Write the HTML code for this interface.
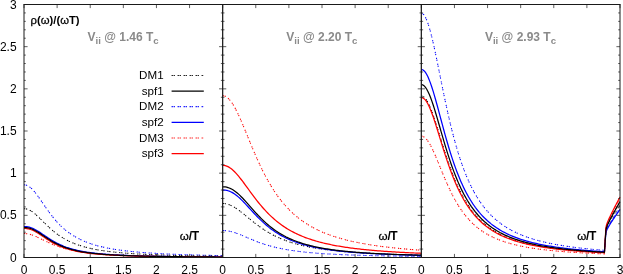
<!DOCTYPE html>
<html><head><meta charset="utf-8"><title>plot</title>
<style>
html,body{margin:0;padding:0;background:#fff;}
body{width:623px;height:274px;overflow:hidden;}
svg{display:block;will-change:transform;}
text{font-family:"Liberation Sans",sans-serif;font-size:12.0px;fill:#000;}
.ttl{font-weight:bold;font-size:12px;fill:#8a8a8a;}
.b{font-weight:bold;font-size:12px;}
.lg{font-size:11.6px;}
.g{stroke:#000;stroke-width:0.25px;}
</style></head><body>
<svg width="623" height="274" viewBox="0 0 623 274">
<rect width="623" height="274" fill="#fff"/>
<g fill="none" stroke-linecap="butt" stroke-linejoin="round">
<path d="M24.00,184.80 L25.32,184.93 L26.65,185.29 L27.97,185.89 L29.30,186.71 L30.62,187.73 L31.95,188.95 L33.27,190.33 L34.60,191.86 L35.92,193.51 L37.24,195.26 L38.57,197.08 L39.89,198.96 L41.22,200.88 L42.54,202.81 L43.87,204.74 L45.19,206.66 L46.52,208.56 L47.84,210.42 L49.16,212.25 L50.49,214.02 L51.81,215.74 L53.14,217.40 L54.46,219.01 L55.79,220.55 L57.11,222.04 L58.44,223.46 L59.76,224.82 L61.08,226.12 L62.41,227.37 L63.73,228.56 L65.06,229.69 L66.38,230.77 L67.71,231.80 L69.03,232.79 L70.36,233.72 L71.68,234.62 L73.00,235.47 L74.33,236.28 L75.65,237.05 L76.98,237.79 L78.30,238.49 L79.63,239.16 L80.95,239.79 L82.28,240.40 L83.60,240.98 L84.92,241.54 L86.25,242.07 L87.57,242.57 L88.90,243.06 L90.22,243.52 L91.55,243.96 L92.87,244.38 L94.20,244.79 L95.52,245.17 L96.84,245.55 L98.17,245.90 L99.49,246.24 L100.82,246.57 L102.14,246.88 L103.47,247.18 L104.79,247.47 L106.12,247.75 L107.44,248.02 L108.76,248.27 L110.09,248.52 L111.41,248.76 L112.74,248.99 L114.06,249.21 L115.39,249.42 L116.71,249.62 L118.04,249.82 L119.36,250.01 L120.68,250.19 L122.01,250.37 L123.33,250.54 L124.66,250.71 L125.98,250.87 L127.31,251.02 L128.63,251.17 L129.96,251.31 L131.28,251.45 L132.60,251.59 L133.93,251.72 L135.25,251.84 L136.58,251.97 L137.90,252.08 L139.23,252.20 L140.55,252.31 L141.88,252.42 L143.20,252.52 L144.52,252.62 L145.85,252.72 L147.17,252.82 L148.50,252.91 L149.82,253.00 L151.15,253.09 L152.47,253.17 L153.80,253.26 L155.12,253.34 L156.44,253.42 L157.77,253.49 L159.09,253.57 L160.42,253.64 L161.74,253.71 L163.07,253.78 L164.39,253.84 L165.72,253.91 L167.04,253.97 L168.36,254.03 L169.69,254.09 L171.01,254.15 L172.34,254.21 L173.66,254.26 L174.99,254.32 L176.31,254.37 L177.64,254.42 L178.96,254.47 L180.28,254.52 L181.61,254.57 L182.93,254.61 L184.26,254.66 L185.58,254.70 L186.91,254.75 L188.23,254.79 L189.56,254.83 L190.88,254.87 L192.20,254.91 L193.53,254.95 L194.85,254.99 L196.18,255.03 L197.50,255.06 L198.83,255.10 L200.15,255.13 L201.48,255.17 L202.80,255.20 L204.12,255.23 L205.45,255.26 L206.77,255.30 L208.10,255.33 L209.42,255.36 L210.75,255.39 L212.07,255.42 L213.40,255.44 L214.72,255.47 L216.04,255.50 L217.37,255.52 L218.69,255.55 L220.02,255.58 L221.34,255.60 L222.67,255.63" stroke="#0000ff" stroke-width="1.05" stroke-dasharray="1.25 0.75 1.25 2.75"/>
<path d="M24.00,233.55 L25.32,233.59 L26.65,233.72 L27.97,233.92 L29.30,234.20 L30.62,234.55 L31.95,234.97 L33.27,235.44 L34.60,235.96 L35.92,236.52 L37.24,237.12 L38.57,237.74 L39.89,238.37 L41.22,239.02 L42.54,239.67 L43.87,240.32 L45.19,240.96 L46.52,241.60 L47.84,242.22 L49.16,242.82 L50.49,243.41 L51.81,243.98 L53.14,244.53 L54.46,245.07 L55.79,245.57 L57.11,246.06 L58.44,246.53 L59.76,246.98 L61.08,247.40 L62.41,247.81 L63.73,248.20 L65.06,248.57 L66.38,248.92 L67.71,249.26 L69.03,249.58 L70.36,249.88 L71.68,250.17 L73.00,250.45 L74.33,250.71 L75.65,250.96 L76.98,251.20 L78.30,251.43 L79.63,251.64 L80.95,251.85 L82.28,252.04 L83.60,252.23 L84.92,252.41 L86.25,252.58 L87.57,252.74 L88.90,252.90 L90.22,253.05 L91.55,253.19 L92.87,253.32 L94.20,253.45 L95.52,253.58 L96.84,253.70 L98.17,253.81 L99.49,253.92 L100.82,254.02 L102.14,254.12 L103.47,254.22 L104.79,254.31 L106.12,254.40 L107.44,254.49 L108.76,254.57 L110.09,254.65 L111.41,254.72 L112.74,254.80 L114.06,254.87 L115.39,254.93 L116.71,255.00 L118.04,255.06 L119.36,255.12 L120.68,255.18 L122.01,255.24 L123.33,255.29 L124.66,255.34 L125.98,255.40 L127.31,255.44 L128.63,255.49 L129.96,255.54 L131.28,255.58 L132.60,255.62 L133.93,255.67 L135.25,255.71 L136.58,255.75 L137.90,255.78 L139.23,255.82 L140.55,255.85 L141.88,255.89 L143.20,255.92 L144.52,255.95 L145.85,255.99 L147.17,256.02 L148.50,256.05 L149.82,256.07 L151.15,256.10 L152.47,256.13 L153.80,256.16 L155.12,256.18 L156.44,256.21 L157.77,256.23 L159.09,256.25 L160.42,256.28 L161.74,256.30 L163.07,256.32 L164.39,256.34 L165.72,256.36 L167.04,256.38 L168.36,256.40 L169.69,256.42 L171.01,256.44 L172.34,256.46 L173.66,256.47 L174.99,256.49 L176.31,256.51 L177.64,256.52 L178.96,256.54 L180.28,256.56 L181.61,256.57 L182.93,256.59 L184.26,256.60 L185.58,256.61 L186.91,256.63 L188.23,256.64 L189.56,256.66 L190.88,256.67 L192.20,256.68 L193.53,256.69 L194.85,256.71 L196.18,256.72 L197.50,256.73 L198.83,256.74 L200.15,256.75 L201.48,256.76 L202.80,256.77 L204.12,256.78 L205.45,256.79 L206.77,256.80 L208.10,256.81 L209.42,256.82 L210.75,256.83 L212.07,256.84 L213.40,256.85 L214.72,256.86 L216.04,256.87 L217.37,256.87 L218.69,256.88 L220.02,256.89 L221.34,256.90 L222.67,256.91" stroke="#ff0000" stroke-width="1.05" stroke-dasharray="1.25 0.75 1.25 2.75"/>
<path d="M24.00,208.67 L25.32,208.76 L26.65,209.01 L27.97,209.42 L29.30,209.99 L30.62,210.69 L31.95,211.53 L33.27,212.48 L34.60,213.54 L35.92,214.67 L37.24,215.87 L38.57,217.12 L39.89,218.40 L41.22,219.71 L42.54,221.03 L43.87,222.35 L45.19,223.65 L46.52,224.94 L47.84,226.20 L49.16,227.44 L50.49,228.63 L51.81,229.79 L53.14,230.92 L54.46,232.00 L55.79,233.03 L57.11,234.03 L58.44,234.99 L59.76,235.90 L61.08,236.77 L62.41,237.60 L63.73,238.40 L65.06,239.15 L66.38,239.87 L67.71,240.56 L69.03,241.22 L70.36,241.84 L71.68,242.43 L73.00,243.00 L74.33,243.54 L75.65,244.05 L76.98,244.54 L78.30,245.00 L79.63,245.44 L80.95,245.87 L82.28,246.27 L83.60,246.65 L84.92,247.02 L86.25,247.37 L87.57,247.70 L88.90,248.02 L90.22,248.33 L91.55,248.62 L92.87,248.90 L94.20,249.16 L95.52,249.42 L96.84,249.66 L98.17,249.90 L99.49,250.12 L100.82,250.34 L102.14,250.54 L103.47,250.74 L104.79,250.93 L106.12,251.11 L107.44,251.29 L108.76,251.46 L110.09,251.62 L111.41,251.78 L112.74,251.93 L114.06,252.07 L115.39,252.21 L116.71,252.34 L118.04,252.47 L119.36,252.60 L120.68,252.72 L122.01,252.84 L123.33,252.95 L124.66,253.06 L125.98,253.16 L127.31,253.26 L128.63,253.36 L129.96,253.45 L131.28,253.54 L132.60,253.63 L133.93,253.72 L135.25,253.80 L136.58,253.88 L137.90,253.96 L139.23,254.03 L140.55,254.11 L141.88,254.18 L143.20,254.25 L144.52,254.31 L145.85,254.38 L147.17,254.44 L148.50,254.50 L149.82,254.56 L151.15,254.62 L152.47,254.67 L153.80,254.73 L155.12,254.78 L156.44,254.83 L157.77,254.88 L159.09,254.93 L160.42,254.98 L161.74,255.02 L163.07,255.07 L164.39,255.11 L165.72,255.15 L167.04,255.19 L168.36,255.23 L169.69,255.27 L171.01,255.31 L172.34,255.35 L173.66,255.38 L174.99,255.42 L176.31,255.45 L177.64,255.49 L178.96,255.52 L180.28,255.55 L181.61,255.58 L182.93,255.61 L184.26,255.64 L185.58,255.67 L186.91,255.70 L188.23,255.73 L189.56,255.76 L190.88,255.78 L192.20,255.81 L193.53,255.83 L194.85,255.86 L196.18,255.88 L197.50,255.91 L198.83,255.93 L200.15,255.95 L201.48,255.98 L202.80,256.00 L204.12,256.02 L205.45,256.04 L206.77,256.06 L208.10,256.08 L209.42,256.10 L210.75,256.12 L212.07,256.14 L213.40,256.16 L214.72,256.17 L216.04,256.19 L217.37,256.21 L218.69,256.23 L220.02,256.24 L221.34,256.26 L222.67,256.28" stroke="#000" stroke-width="1.05" stroke-dasharray="1.25 0.75 1.25 2.75"/>
<path d="M24.00,226.55 L25.32,226.58 L26.65,226.69 L27.97,226.89 L29.30,227.18 L30.62,227.56 L31.95,228.04 L33.27,228.60 L34.60,229.24 L35.92,229.95 L37.24,230.72 L38.57,231.53 L39.89,232.38 L41.22,233.26 L42.54,234.16 L43.87,235.06 L45.19,235.97 L46.52,236.86 L47.84,237.75 L49.16,238.61 L50.49,239.45 L51.81,240.26 L53.14,241.05 L54.46,241.80 L55.79,242.53 L57.11,243.22 L58.44,243.88 L59.76,244.51 L61.08,245.11 L62.41,245.68 L63.73,246.22 L65.06,246.73 L66.38,247.22 L67.71,247.68 L69.03,248.11 L70.36,248.52 L71.68,248.91 L73.00,249.28 L74.33,249.63 L75.65,249.96 L76.98,250.27 L78.30,250.57 L79.63,250.85 L80.95,251.12 L82.28,251.37 L83.60,251.61 L84.92,251.84 L86.25,252.05 L87.57,252.26 L88.90,252.45 L90.22,252.64 L91.55,252.81 L92.87,252.98 L94.20,253.14 L95.52,253.29 L96.84,253.44 L98.17,253.57 L99.49,253.71 L100.82,253.83 L102.14,253.95 L103.47,254.07 L104.79,254.18 L106.12,254.28 L107.44,254.38 L108.76,254.48 L110.09,254.57 L111.41,254.66 L112.74,254.74 L114.06,254.82 L115.39,254.90 L116.71,254.97 L118.04,255.04 L119.36,255.11 L120.68,255.18 L122.01,255.24 L123.33,255.30 L124.66,255.36 L125.98,255.42 L127.31,255.47 L128.63,255.53 L129.96,255.58 L131.28,255.62 L132.60,255.67 L133.93,255.72 L135.25,255.76 L136.58,255.80 L137.90,255.84 L139.23,255.88 L140.55,255.92 L141.88,255.96 L143.20,255.99 L144.52,256.03 L145.85,256.06 L147.17,256.09 L148.50,256.13 L149.82,256.16 L151.15,256.18 L152.47,256.21 L153.80,256.24 L155.12,256.27 L156.44,256.29 L157.77,256.32 L159.09,256.34 L160.42,256.37 L161.74,256.39 L163.07,256.41 L164.39,256.43 L165.72,256.45 L167.04,256.48 L168.36,256.49 L169.69,256.51 L171.01,256.53 L172.34,256.55 L173.66,256.57 L174.99,256.59 L176.31,256.60 L177.64,256.62 L178.96,256.64 L180.28,256.65 L181.61,256.67 L182.93,256.68 L184.26,256.70 L185.58,256.71 L186.91,256.72 L188.23,256.74 L189.56,256.75 L190.88,256.76 L192.20,256.78 L193.53,256.79 L194.85,256.80 L196.18,256.81 L197.50,256.82 L198.83,256.83 L200.15,256.84 L201.48,256.85 L202.80,256.86 L204.12,256.87 L205.45,256.88 L206.77,256.89 L208.10,256.90 L209.42,256.91 L210.75,256.92 L212.07,256.93 L213.40,256.94 L214.72,256.95 L216.04,256.96 L217.37,256.96 L218.69,256.97 L220.02,256.98 L221.34,256.99 L222.67,256.99" stroke="#0000ff" stroke-width="1.25"/>
<path d="M24.00,228.41 L25.32,228.44 L26.65,228.55 L27.97,228.76 L29.30,229.07 L30.62,229.47 L31.95,229.97 L33.27,230.55 L34.60,231.22 L35.92,231.95 L37.24,232.73 L38.57,233.56 L39.89,234.43 L41.22,235.31 L42.54,236.21 L43.87,237.10 L45.19,237.99 L46.52,238.87 L47.84,239.72 L49.16,240.56 L50.49,241.36 L51.81,242.14 L53.14,242.88 L54.46,243.59 L55.79,244.27 L57.11,244.91 L58.44,245.53 L59.76,246.11 L61.08,246.66 L62.41,247.18 L63.73,247.67 L65.06,248.13 L66.38,248.57 L67.71,248.98 L69.03,249.37 L70.36,249.74 L71.68,250.09 L73.00,250.42 L74.33,250.73 L75.65,251.02 L76.98,251.29 L78.30,251.56 L79.63,251.80 L80.95,252.04 L82.28,252.26 L83.60,252.47 L84.92,252.66 L86.25,252.85 L87.57,253.03 L88.90,253.20 L90.22,253.36 L91.55,253.51 L92.87,253.66 L94.20,253.79 L95.52,253.92 L96.84,254.05 L98.17,254.17 L99.49,254.28 L100.82,254.39 L102.14,254.49 L103.47,254.59 L104.79,254.68 L106.12,254.77 L107.44,254.86 L108.76,254.94 L110.09,255.02 L111.41,255.10 L112.74,255.17 L114.06,255.24 L115.39,255.30 L116.71,255.37 L118.04,255.43 L119.36,255.49 L120.68,255.54 L122.01,255.60 L123.33,255.65 L124.66,255.70 L125.98,255.75 L127.31,255.79 L128.63,255.84 L129.96,255.88 L131.28,255.92 L132.60,255.96 L133.93,256.00 L135.25,256.04 L136.58,256.07 L137.90,256.11 L139.23,256.14 L140.55,256.17 L141.88,256.20 L143.20,256.23 L144.52,256.26 L145.85,256.29 L147.17,256.32 L148.50,256.34 L149.82,256.37 L151.15,256.39 L152.47,256.42 L153.80,256.44 L155.12,256.46 L156.44,256.49 L157.77,256.51 L159.09,256.53 L160.42,256.55 L161.74,256.57 L163.07,256.59 L164.39,256.60 L165.72,256.62 L167.04,256.64 L168.36,256.66 L169.69,256.67 L171.01,256.69 L172.34,256.70 L173.66,256.72 L174.99,256.73 L176.31,256.75 L177.64,256.76 L178.96,256.77 L180.28,256.79 L181.61,256.80 L182.93,256.81 L184.26,256.83 L185.58,256.84 L186.91,256.85 L188.23,256.86 L189.56,256.87 L190.88,256.88 L192.20,256.89 L193.53,256.90 L194.85,256.91 L196.18,256.92 L197.50,256.93 L198.83,256.94 L200.15,256.95 L201.48,256.96 L202.80,256.97 L204.12,256.98 L205.45,256.98 L206.77,256.99 L208.10,257.00 L209.42,257.01 L210.75,257.01 L212.07,257.02 L213.40,257.03 L214.72,257.04 L216.04,257.04 L217.37,257.05 L218.69,257.06 L220.02,257.06 L221.34,257.07 L222.67,257.08" stroke="#ff0000" stroke-width="1.25"/>
<path d="M24.00,227.48 L25.32,227.51 L26.65,227.62 L27.97,227.82 L29.30,228.12 L30.62,228.51 L31.95,229.00 L33.27,229.57 L34.60,230.21 L35.92,230.93 L37.24,231.71 L38.57,232.53 L39.89,233.38 L41.22,234.26 L42.54,235.16 L43.87,236.05 L45.19,236.95 L46.52,237.84 L47.84,238.70 L49.16,239.55 L50.49,240.38 L51.81,241.17 L53.14,241.94 L54.46,242.67 L55.79,243.37 L57.11,244.04 L58.44,244.68 L59.76,245.28 L61.08,245.86 L62.41,246.40 L63.73,246.92 L65.06,247.41 L66.38,247.87 L67.71,248.31 L69.03,248.72 L70.36,249.11 L71.68,249.48 L73.00,249.83 L74.33,250.16 L75.65,250.47 L76.98,250.77 L78.30,251.05 L79.63,251.31 L80.95,251.56 L82.28,251.80 L83.60,252.03 L84.92,252.24 L86.25,252.44 L87.57,252.63 L88.90,252.82 L90.22,252.99 L91.55,253.15 L92.87,253.31 L94.20,253.46 L95.52,253.60 L96.84,253.73 L98.17,253.86 L99.49,253.99 L100.82,254.10 L102.14,254.21 L103.47,254.32 L104.79,254.42 L106.12,254.52 L107.44,254.61 L108.76,254.70 L110.09,254.79 L111.41,254.87 L112.74,254.95 L114.06,255.02 L115.39,255.10 L116.71,255.16 L118.04,255.23 L119.36,255.29 L120.68,255.36 L122.01,255.41 L123.33,255.47 L124.66,255.53 L125.98,255.58 L127.31,255.63 L128.63,255.68 L129.96,255.72 L131.28,255.77 L132.60,255.81 L133.93,255.85 L135.25,255.89 L136.58,255.93 L137.90,255.97 L139.23,256.01 L140.55,256.04 L141.88,256.08 L143.20,256.11 L144.52,256.14 L145.85,256.17 L147.17,256.20 L148.50,256.23 L149.82,256.26 L151.15,256.29 L152.47,256.31 L153.80,256.34 L155.12,256.36 L156.44,256.39 L157.77,256.41 L159.09,256.43 L160.42,256.45 L161.74,256.48 L163.07,256.50 L164.39,256.52 L165.72,256.54 L167.04,256.56 L168.36,256.57 L169.69,256.59 L171.01,256.61 L172.34,256.63 L173.66,256.64 L174.99,256.66 L176.31,256.67 L177.64,256.69 L178.96,256.70 L180.28,256.72 L181.61,256.73 L182.93,256.75 L184.26,256.76 L185.58,256.77 L186.91,256.78 L188.23,256.80 L189.56,256.81 L190.88,256.82 L192.20,256.83 L193.53,256.84 L194.85,256.85 L196.18,256.86 L197.50,256.88 L198.83,256.89 L200.15,256.90 L201.48,256.91 L202.80,256.91 L204.12,256.92 L205.45,256.93 L206.77,256.94 L208.10,256.95 L209.42,256.96 L210.75,256.97 L212.07,256.98 L213.40,256.98 L214.72,256.99 L216.04,257.00 L217.37,257.01 L218.69,257.01 L220.02,257.02 L221.34,257.03 L222.67,257.03" stroke="#000" stroke-width="1.25"/>
<path d="M222.67,230.51 L223.99,230.54 L225.32,230.63 L226.64,230.76 L227.96,230.96 L229.29,231.20 L230.61,231.49 L231.94,231.82 L233.26,232.20 L234.59,232.61 L235.91,233.06 L237.24,233.53 L238.56,234.03 L239.88,234.55 L241.21,235.08 L242.53,235.63 L243.86,236.19 L245.18,236.75 L246.51,237.32 L247.83,237.88 L249.16,238.44 L250.48,239.00 L251.80,239.55 L253.13,240.09 L254.45,240.63 L255.78,241.15 L257.10,241.66 L258.43,242.15 L259.75,242.64 L261.08,243.11 L262.40,243.56 L263.72,244.01 L265.05,244.43 L266.37,244.85 L267.70,245.25 L269.02,245.64 L270.35,246.01 L271.67,246.37 L273.00,246.72 L274.32,247.05 L275.64,247.37 L276.97,247.68 L278.29,247.98 L279.62,248.27 L280.94,248.55 L282.27,248.81 L283.59,249.07 L284.92,249.32 L286.24,249.56 L287.56,249.79 L288.89,250.01 L290.21,250.22 L291.54,250.42 L292.86,250.62 L294.19,250.81 L295.51,250.99 L296.84,251.17 L298.16,251.34 L299.48,251.50 L300.81,251.66 L302.13,251.81 L303.46,251.96 L304.78,252.10 L306.11,252.24 L307.43,252.37 L308.76,252.50 L310.08,252.62 L311.40,252.74 L312.73,252.86 L314.05,252.97 L315.38,253.08 L316.70,253.18 L318.03,253.28 L319.35,253.38 L320.68,253.47 L322.00,253.56 L323.32,253.65 L324.65,253.74 L325.97,253.82 L327.30,253.90 L328.62,253.98 L329.95,254.05 L331.27,254.13 L332.60,254.20 L333.92,254.27 L335.24,254.33 L336.57,254.40 L337.89,254.46 L339.22,254.52 L340.54,254.58 L341.87,254.64 L343.19,254.69 L344.52,254.75 L345.84,254.80 L347.16,254.85 L348.49,254.90 L349.81,254.95 L351.14,255.00 L352.46,255.05 L353.79,255.09 L355.11,255.13 L356.44,255.18 L357.76,255.22 L359.08,255.26 L360.41,255.30 L361.73,255.34 L363.06,255.37 L364.38,255.41 L365.71,255.45 L367.03,255.48 L368.36,255.51 L369.68,255.55 L371.00,255.58 L372.33,255.61 L373.65,255.64 L374.98,255.67 L376.30,255.70 L377.63,255.73 L378.95,255.76 L380.28,255.79 L381.60,255.81 L382.92,255.84 L384.25,255.86 L385.57,255.89 L386.90,255.91 L388.22,255.94 L389.55,255.96 L390.87,255.98 L392.20,256.00 L393.52,256.03 L394.84,256.05 L396.17,256.07 L397.49,256.09 L398.82,256.11 L400.14,256.13 L401.47,256.15 L402.79,256.17 L404.12,256.19 L405.44,256.20 L406.76,256.22 L408.09,256.24 L409.41,256.26 L410.74,256.27 L412.06,256.29 L413.39,256.30 L414.71,256.32 L416.04,256.34 L417.36,256.35 L418.68,256.37 L420.01,256.38 L421.33,256.39" stroke="#0000ff" stroke-width="1.05" stroke-dasharray="1.25 0.75 1.25 2.75"/>
<path d="M222.67,95.66 L223.99,95.82 L225.32,96.27 L226.64,97.03 L227.96,98.08 L229.29,99.41 L230.61,101.00 L231.94,102.84 L233.26,104.91 L234.59,107.19 L235.91,109.66 L237.24,112.30 L238.56,115.08 L239.88,117.99 L241.21,120.99 L242.53,124.08 L243.86,127.24 L245.18,130.43 L246.51,133.65 L247.83,136.89 L249.16,140.12 L250.48,143.33 L251.80,146.52 L253.13,149.67 L254.45,152.77 L255.78,155.83 L257.10,158.82 L258.43,161.75 L259.75,164.61 L261.08,167.40 L262.40,170.12 L263.72,172.76 L265.05,175.33 L266.37,177.82 L267.70,180.23 L269.02,182.57 L270.35,184.83 L271.67,187.02 L273.00,189.13 L274.32,191.17 L275.64,193.15 L276.97,195.05 L278.29,196.89 L279.62,198.66 L280.94,200.37 L282.27,202.02 L283.59,203.61 L284.92,205.15 L286.24,206.63 L287.56,208.06 L288.89,209.43 L290.21,210.76 L291.54,212.04 L292.86,213.28 L294.19,214.47 L295.51,215.62 L296.84,216.73 L298.16,217.80 L299.48,218.83 L300.81,219.83 L302.13,220.79 L303.46,221.72 L304.78,222.62 L306.11,223.48 L307.43,224.32 L308.76,225.13 L310.08,225.92 L311.40,226.67 L312.73,227.41 L314.05,228.12 L315.38,228.80 L316.70,229.46 L318.03,230.11 L319.35,230.73 L320.68,231.33 L322.00,231.92 L323.32,232.48 L324.65,233.03 L325.97,233.56 L327.30,234.07 L328.62,234.57 L329.95,235.06 L331.27,235.53 L332.60,235.99 L333.92,236.43 L335.24,236.86 L336.57,237.28 L337.89,237.68 L339.22,238.08 L340.54,238.46 L341.87,238.83 L343.19,239.19 L344.52,239.54 L345.84,239.89 L347.16,240.22 L348.49,240.54 L349.81,240.86 L351.14,241.17 L352.46,241.46 L353.79,241.76 L355.11,242.04 L356.44,242.32 L357.76,242.58 L359.08,242.85 L360.41,243.10 L361.73,243.35 L363.06,243.59 L364.38,243.83 L365.71,244.06 L367.03,244.29 L368.36,244.51 L369.68,244.72 L371.00,244.93 L372.33,245.14 L373.65,245.34 L374.98,245.53 L376.30,245.72 L377.63,245.91 L378.95,246.09 L380.28,246.27 L381.60,246.44 L382.92,246.61 L384.25,246.78 L385.57,246.94 L386.90,247.10 L388.22,247.25 L389.55,247.40 L390.87,247.55 L392.20,247.70 L393.52,247.84 L394.84,247.98 L396.17,248.12 L397.49,248.25 L398.82,248.38 L400.14,248.51 L401.47,248.63 L402.79,248.76 L404.12,248.88 L405.44,249.00 L406.76,249.11 L408.09,249.22 L409.41,249.34 L410.74,249.44 L412.06,249.55 L413.39,249.66 L414.71,249.76 L416.04,249.86 L417.36,249.96 L418.68,250.06 L420.01,250.15 L421.33,250.24" stroke="#ff0000" stroke-width="1.05" stroke-dasharray="1.25 0.75 1.25 2.75"/>
<path d="M222.67,203.44 L223.99,203.49 L225.32,203.65 L226.64,203.91 L227.96,204.27 L229.29,204.72 L230.61,205.26 L231.94,205.89 L233.26,206.59 L234.59,207.37 L235.91,208.21 L237.24,209.11 L238.56,210.05 L239.88,211.04 L241.21,212.06 L242.53,213.11 L243.86,214.17 L245.18,215.25 L246.51,216.34 L247.83,217.44 L249.16,218.53 L250.48,219.61 L251.80,220.68 L253.13,221.74 L254.45,222.79 L255.78,223.81 L257.10,224.82 L258.43,225.80 L259.75,226.76 L261.08,227.69 L262.40,228.60 L263.72,229.49 L265.05,230.34 L266.37,231.18 L267.70,231.98 L269.02,232.76 L270.35,233.52 L271.67,234.24 L273.00,234.95 L274.32,235.63 L275.64,236.28 L276.97,236.92 L278.29,237.53 L279.62,238.12 L280.94,238.68 L282.27,239.23 L283.59,239.76 L284.92,240.27 L286.24,240.76 L287.56,241.23 L288.89,241.69 L290.21,242.13 L291.54,242.55 L292.86,242.96 L294.19,243.35 L295.51,243.73 L296.84,244.10 L298.16,244.45 L299.48,244.79 L300.81,245.12 L302.13,245.44 L303.46,245.75 L304.78,246.04 L306.11,246.33 L307.43,246.61 L308.76,246.87 L310.08,247.13 L311.40,247.38 L312.73,247.62 L314.05,247.86 L315.38,248.08 L316.70,248.30 L318.03,248.51 L319.35,248.72 L320.68,248.92 L322.00,249.11 L323.32,249.29 L324.65,249.47 L325.97,249.65 L327.30,249.82 L328.62,249.98 L329.95,250.14 L331.27,250.30 L332.60,250.45 L333.92,250.59 L335.24,250.73 L336.57,250.87 L337.89,251.00 L339.22,251.13 L340.54,251.26 L341.87,251.38 L343.19,251.50 L344.52,251.62 L345.84,251.73 L347.16,251.84 L348.49,251.95 L349.81,252.05 L351.14,252.15 L352.46,252.25 L353.79,252.34 L355.11,252.44 L356.44,252.53 L357.76,252.61 L359.08,252.70 L360.41,252.78 L361.73,252.87 L363.06,252.95 L364.38,253.02 L365.71,253.10 L367.03,253.17 L368.36,253.25 L369.68,253.32 L371.00,253.38 L372.33,253.45 L373.65,253.52 L374.98,253.58 L376.30,253.64 L377.63,253.70 L378.95,253.76 L380.28,253.82 L381.60,253.88 L382.92,253.94 L384.25,253.99 L385.57,254.04 L386.90,254.09 L388.22,254.15 L389.55,254.20 L390.87,254.24 L392.20,254.29 L393.52,254.34 L394.84,254.38 L396.17,254.43 L397.49,254.47 L398.82,254.52 L400.14,254.56 L401.47,254.60 L402.79,254.64 L404.12,254.68 L405.44,254.72 L406.76,254.75 L408.09,254.79 L409.41,254.83 L410.74,254.86 L412.06,254.90 L413.39,254.93 L414.71,254.97 L416.04,255.00 L417.36,255.03 L418.68,255.06 L420.01,255.10 L421.33,255.13" stroke="#000" stroke-width="1.05" stroke-dasharray="1.25 0.75 1.25 2.75"/>
<path d="M222.67,190.03 L223.99,190.07 L225.32,190.19 L226.64,190.41 L227.96,190.73 L229.29,191.17 L230.61,191.72 L231.94,192.37 L233.26,193.14 L234.59,194.00 L235.91,194.96 L237.24,196.00 L238.56,197.13 L239.88,198.33 L241.21,199.59 L242.53,200.91 L243.86,202.26 L245.18,203.66 L246.51,205.08 L247.83,206.51 L249.16,207.96 L250.48,209.40 L251.80,210.85 L253.13,212.28 L254.45,213.70 L255.78,215.10 L257.10,216.47 L258.43,217.82 L259.75,219.13 L261.08,220.42 L262.40,221.67 L263.72,222.88 L265.05,224.06 L266.37,225.20 L267.70,226.30 L269.02,227.37 L270.35,228.40 L271.67,229.39 L273.00,230.35 L274.32,231.27 L275.64,232.16 L276.97,233.01 L278.29,233.83 L279.62,234.62 L280.94,235.38 L282.27,236.11 L283.59,236.81 L284.92,237.48 L286.24,238.13 L287.56,238.75 L288.89,239.34 L290.21,239.92 L291.54,240.47 L292.86,240.99 L294.19,241.50 L295.51,241.99 L296.84,242.46 L298.16,242.91 L299.48,243.34 L300.81,243.76 L302.13,244.16 L303.46,244.54 L304.78,244.91 L306.11,245.27 L307.43,245.61 L308.76,245.94 L310.08,246.26 L311.40,246.57 L312.73,246.86 L314.05,247.15 L315.38,247.42 L316.70,247.69 L318.03,247.94 L319.35,248.19 L320.68,248.42 L322.00,248.65 L323.32,248.88 L324.65,249.09 L325.97,249.30 L327.30,249.50 L328.62,249.69 L329.95,249.88 L331.27,250.06 L332.60,250.23 L333.92,250.40 L335.24,250.56 L336.57,250.72 L337.89,250.88 L339.22,251.02 L340.54,251.17 L341.87,251.31 L343.19,251.44 L344.52,251.58 L345.84,251.70 L347.16,251.83 L348.49,251.95 L349.81,252.06 L351.14,252.17 L352.46,252.28 L353.79,252.39 L355.11,252.49 L356.44,252.60 L357.76,252.69 L359.08,252.79 L360.41,252.88 L361.73,252.97 L363.06,253.06 L364.38,253.14 L365.71,253.22 L367.03,253.31 L368.36,253.38 L369.68,253.46 L371.00,253.53 L372.33,253.61 L373.65,253.68 L374.98,253.75 L376.30,253.81 L377.63,253.88 L378.95,253.94 L380.28,254.00 L381.60,254.06 L382.92,254.12 L384.25,254.18 L385.57,254.24 L386.90,254.29 L388.22,254.35 L389.55,254.40 L390.87,254.45 L392.20,254.50 L393.52,254.55 L394.84,254.60 L396.17,254.64 L397.49,254.69 L398.82,254.73 L400.14,254.77 L401.47,254.82 L402.79,254.86 L404.12,254.90 L405.44,254.94 L406.76,254.98 L408.09,255.02 L409.41,255.05 L410.74,255.09 L412.06,255.13 L413.39,255.16 L414.71,255.19 L416.04,255.23 L417.36,255.26 L418.68,255.29 L420.01,255.32 L421.33,255.35" stroke="#0000ff" stroke-width="1.25"/>
<path d="M222.67,165.32 L223.99,165.41 L225.32,165.66 L226.64,166.09 L227.96,166.67 L229.29,167.41 L230.61,168.30 L231.94,169.33 L233.26,170.48 L234.59,171.76 L235.91,173.14 L237.24,174.62 L238.56,176.18 L239.88,177.80 L241.21,179.49 L242.53,181.23 L243.86,183.00 L245.18,184.79 L246.51,186.61 L247.83,188.43 L249.16,190.25 L250.48,192.06 L251.80,193.86 L253.13,195.65 L254.45,197.40 L255.78,199.13 L257.10,200.83 L258.43,202.49 L259.75,204.11 L261.08,205.70 L262.40,207.24 L263.72,208.74 L265.05,210.20 L266.37,211.62 L267.70,213.00 L269.02,214.33 L270.35,215.62 L271.67,216.87 L273.00,218.08 L274.32,219.24 L275.64,220.37 L276.97,221.46 L278.29,222.51 L279.62,223.53 L280.94,224.51 L282.27,225.46 L283.59,226.37 L284.92,227.25 L286.24,228.10 L287.56,228.92 L288.89,229.71 L290.21,230.47 L291.54,231.21 L292.86,231.92 L294.19,232.60 L295.51,233.26 L296.84,233.90 L298.16,234.52 L299.48,235.11 L300.81,235.69 L302.13,236.24 L303.46,236.78 L304.78,237.30 L306.11,237.80 L307.43,238.28 L308.76,238.75 L310.08,239.20 L311.40,239.64 L312.73,240.06 L314.05,240.47 L315.38,240.86 L316.70,241.25 L318.03,241.62 L319.35,241.98 L320.68,242.33 L322.00,242.66 L323.32,242.99 L324.65,243.31 L325.97,243.61 L327.30,243.91 L328.62,244.20 L329.95,244.48 L331.27,244.75 L332.60,245.02 L333.92,245.27 L335.24,245.52 L336.57,245.76 L337.89,246.00 L339.22,246.23 L340.54,246.45 L341.87,246.66 L343.19,246.87 L344.52,247.08 L345.84,247.28 L347.16,247.47 L348.49,247.66 L349.81,247.84 L351.14,248.02 L352.46,248.19 L353.79,248.36 L355.11,248.52 L356.44,248.68 L357.76,248.84 L359.08,248.99 L360.41,249.14 L361.73,249.28 L363.06,249.42 L364.38,249.56 L365.71,249.69 L367.03,249.82 L368.36,249.95 L369.68,250.08 L371.00,250.20 L372.33,250.32 L373.65,250.43 L374.98,250.55 L376.30,250.66 L377.63,250.76 L378.95,250.87 L380.28,250.97 L381.60,251.07 L382.92,251.17 L384.25,251.27 L385.57,251.36 L386.90,251.46 L388.22,251.55 L389.55,251.63 L390.87,251.72 L392.20,251.80 L393.52,251.89 L394.84,251.97 L396.17,252.05 L397.49,252.12 L398.82,252.20 L400.14,252.27 L401.47,252.35 L402.79,252.42 L404.12,252.49 L405.44,252.56 L406.76,252.62 L408.09,252.69 L409.41,252.75 L410.74,252.82 L412.06,252.88 L413.39,252.94 L414.71,253.00 L416.04,253.06 L417.36,253.12 L418.68,253.17 L420.01,253.23 L421.33,253.28" stroke="#ff0000" stroke-width="1.25"/>
<path d="M222.67,186.83 L223.99,186.86 L225.32,186.99 L226.64,187.21 L227.96,187.55 L229.29,188.00 L230.61,188.56 L231.94,189.24 L233.26,190.02 L234.59,190.92 L235.91,191.90 L237.24,192.99 L238.56,194.15 L239.88,195.39 L241.21,196.69 L242.53,198.05 L243.86,199.46 L245.18,200.90 L246.51,202.37 L247.83,203.87 L249.16,205.37 L250.48,206.87 L251.80,208.37 L253.13,209.86 L254.45,211.34 L255.78,212.80 L257.10,214.23 L258.43,215.64 L259.75,217.01 L261.08,218.35 L262.40,219.66 L263.72,220.93 L265.05,222.16 L266.37,223.36 L267.70,224.52 L269.02,225.64 L270.35,226.72 L271.67,227.76 L273.00,228.77 L274.32,229.73 L275.64,230.67 L276.97,231.57 L278.29,232.43 L279.62,233.26 L280.94,234.06 L282.27,234.83 L283.59,235.57 L284.92,236.27 L286.24,236.96 L287.56,237.61 L288.89,238.24 L290.21,238.84 L291.54,239.43 L292.86,239.98 L294.19,240.52 L295.51,241.03 L296.84,241.53 L298.16,242.01 L299.48,242.46 L300.81,242.90 L302.13,243.33 L303.46,243.74 L304.78,244.13 L306.11,244.50 L307.43,244.87 L308.76,245.22 L310.08,245.56 L311.40,245.88 L312.73,246.19 L314.05,246.49 L315.38,246.79 L316.70,247.07 L318.03,247.34 L319.35,247.60 L320.68,247.85 L322.00,248.09 L323.32,248.33 L324.65,248.56 L325.97,248.78 L327.30,248.99 L328.62,249.19 L329.95,249.39 L331.27,249.58 L332.60,249.77 L333.92,249.95 L335.24,250.12 L336.57,250.29 L337.89,250.45 L339.22,250.61 L340.54,250.76 L341.87,250.91 L343.19,251.06 L344.52,251.20 L345.84,251.33 L347.16,251.46 L348.49,251.59 L349.81,251.71 L351.14,251.83 L352.46,251.95 L353.79,252.06 L355.11,252.17 L356.44,252.28 L357.76,252.38 L359.08,252.48 L360.41,252.58 L361.73,252.68 L363.06,252.77 L364.38,252.86 L365.71,252.95 L367.03,253.03 L368.36,253.12 L369.68,253.20 L371.00,253.28 L372.33,253.35 L373.65,253.43 L374.98,253.50 L376.30,253.57 L377.63,253.64 L378.95,253.71 L380.28,253.78 L381.60,253.84 L382.92,253.90 L384.25,253.97 L385.57,254.03 L386.90,254.08 L388.22,254.14 L389.55,254.20 L390.87,254.25 L392.20,254.30 L393.52,254.36 L394.84,254.41 L396.17,254.46 L397.49,254.50 L398.82,254.55 L400.14,254.60 L401.47,254.64 L402.79,254.69 L404.12,254.73 L405.44,254.77 L406.76,254.81 L408.09,254.85 L409.41,254.89 L410.74,254.93 L412.06,254.97 L413.39,255.01 L414.71,255.04 L416.04,255.08 L417.36,255.11 L418.68,255.15 L420.01,255.18 L421.33,255.21" stroke="#000" stroke-width="1.25"/>
<path d="M421.33,13.27 L422.65,13.69 L423.97,14.92 L425.29,16.96 L426.60,19.75 L427.92,23.25 L429.24,27.38 L430.55,32.08 L431.87,37.28 L433.19,42.88 L434.51,48.81 L435.82,55.00 L437.14,61.37 L438.46,67.86 L439.78,74.40 L441.09,80.93 L442.41,87.43 L443.73,93.83 L445.04,100.12 L446.36,106.26 L447.68,112.24 L449.00,118.03 L450.31,123.63 L451.63,129.03 L452.95,134.22 L454.27,139.20 L455.58,143.98 L456.90,148.55 L458.22,152.92 L459.53,157.09 L460.85,161.08 L462.17,164.88 L463.49,168.50 L464.80,171.95 L466.12,175.24 L467.44,178.37 L468.76,181.35 L470.07,184.19 L471.39,186.90 L472.71,189.48 L474.03,191.94 L475.34,194.28 L476.66,196.51 L477.98,198.64 L479.29,200.67 L480.61,202.60 L481.93,204.45 L483.25,206.22 L484.56,207.90 L485.88,209.51 L487.20,211.05 L488.52,212.52 L489.83,213.93 L491.15,215.28 L492.47,216.57 L493.78,217.80 L495.10,218.99 L496.42,220.12 L497.74,221.21 L499.05,222.25 L500.37,223.25 L501.69,224.22 L503.01,225.14 L504.32,226.03 L505.64,226.88 L506.96,227.70 L508.28,228.49 L509.59,229.25 L510.91,229.98 L512.23,230.69 L513.54,231.37 L514.86,232.02 L516.18,232.65 L517.50,233.26 L518.81,233.85 L520.13,234.42 L521.45,234.96 L522.77,235.49 L524.08,236.01 L525.40,236.50 L526.72,236.98 L528.03,237.44 L529.35,237.89 L530.67,238.32 L531.99,238.74 L533.30,239.14 L534.62,239.54 L535.94,239.92 L537.26,240.29 L538.57,240.65 L539.89,240.99 L541.21,241.33 L542.52,241.66 L543.84,241.97 L545.16,242.28 L546.48,242.58 L547.79,242.87 L549.11,243.16 L550.43,243.43 L551.75,243.70 L553.06,243.96 L554.38,244.21 L555.70,244.45 L557.02,244.69 L558.33,244.93 L559.65,245.15 L560.97,245.37 L562.28,245.59 L563.60,245.80 L564.92,246.00 L566.24,246.20 L567.55,246.39 L568.87,246.58 L570.19,246.76 L571.51,246.94 L572.82,247.12 L574.14,247.29 L575.46,247.46 L576.77,247.62 L578.09,247.78 L579.41,247.93 L580.73,248.08 L582.04,248.23 L583.36,248.38 L584.68,248.52 L586.00,248.66 L587.31,248.79 L588.63,248.92 L589.95,249.05 L591.26,249.18 L592.58,249.30 L593.90,249.42 L595.22,249.54 L596.53,249.65 L597.85,249.77 L599.17,249.88 L600.49,249.99 L601.80,250.09 L603.12,250.20 L604.44,250.30 L605.89,232.54 L606.51,230.27 L607.12,228.90 L607.73,227.67 L608.35,226.52 L608.96,225.42 L609.57,224.35 L610.19,223.31 L610.80,222.29 L611.41,221.29 L612.03,220.30 L612.64,219.32 L613.25,218.35 L613.87,217.40 L614.48,216.45 L615.09,215.51 L615.71,214.57 L616.32,213.64 L616.93,212.72 L617.55,211.80 L618.16,210.88 L618.77,209.97 L619.39,209.07 L620.00,208.17" stroke="#0000ff" stroke-width="1.05" stroke-dasharray="1.25 0.75 1.25 2.75"/>
<path d="M421.33,136.14 L422.65,136.35 L423.97,136.96 L425.29,137.96 L426.60,139.34 L427.92,141.06 L429.24,143.10 L430.55,145.42 L431.87,147.98 L433.19,150.75 L434.51,153.68 L435.82,156.74 L437.14,159.89 L438.46,163.09 L439.78,166.33 L441.09,169.56 L442.41,172.78 L443.73,175.95 L445.04,179.07 L446.36,182.11 L447.68,185.08 L449.00,187.95 L450.31,190.73 L451.63,193.41 L452.95,195.99 L454.27,198.47 L455.58,200.84 L456.90,203.11 L458.22,205.29 L459.53,207.37 L460.85,209.35 L462.17,211.24 L463.49,213.04 L464.80,214.76 L466.12,216.40 L467.44,217.96 L468.76,219.45 L470.07,220.86 L471.39,222.21 L472.71,223.50 L474.03,224.72 L475.34,225.89 L476.66,227.01 L477.98,228.07 L479.29,229.08 L480.61,230.05 L481.93,230.97 L483.25,231.85 L484.56,232.69 L485.88,233.50 L487.20,234.26 L488.52,235.00 L489.83,235.70 L491.15,236.38 L492.47,237.02 L493.78,237.64 L495.10,238.23 L496.42,238.80 L497.74,239.34 L499.05,239.86 L500.37,240.36 L501.69,240.84 L503.01,241.30 L504.32,241.75 L505.64,242.17 L506.96,242.59 L508.28,242.98 L509.59,243.36 L510.91,243.73 L512.23,244.08 L513.54,244.42 L514.86,244.75 L516.18,245.06 L517.50,245.37 L518.81,245.66 L520.13,245.94 L521.45,246.22 L522.77,246.48 L524.08,246.74 L525.40,246.99 L526.72,247.22 L528.03,247.46 L529.35,247.68 L530.67,247.90 L531.99,248.11 L533.30,248.31 L534.62,248.51 L535.94,248.70 L537.26,248.88 L538.57,249.06 L539.89,249.23 L541.21,249.40 L542.52,249.57 L543.84,249.73 L545.16,249.88 L546.48,250.03 L547.79,250.17 L549.11,250.32 L550.43,250.45 L551.75,250.59 L553.06,250.72 L554.38,250.84 L555.70,250.97 L557.02,251.09 L558.33,251.20 L559.65,251.32 L560.97,251.43 L562.28,251.53 L563.60,251.64 L564.92,251.74 L566.24,251.84 L567.55,251.94 L568.87,252.03 L570.19,252.12 L571.51,252.21 L572.82,252.30 L574.14,252.39 L575.46,252.47 L576.77,252.55 L578.09,252.63 L579.41,252.71 L580.73,252.78 L582.04,252.86 L583.36,252.93 L584.68,253.00 L586.00,253.07 L587.31,253.14 L588.63,253.20 L589.95,253.27 L591.26,253.33 L592.58,253.39 L593.90,253.45 L595.22,253.51 L596.53,253.57 L597.85,253.63 L599.17,253.68 L600.49,253.74 L601.80,253.79 L603.12,253.84 L604.44,253.89 L605.89,229.25 L606.51,226.46 L607.12,224.78 L607.73,223.27 L608.35,221.86 L608.96,220.50 L609.57,219.19 L610.19,217.92 L610.80,216.66 L611.41,215.43 L612.03,214.21 L612.64,213.01 L613.25,211.83 L613.87,210.65 L614.48,209.48 L615.09,208.33 L615.71,207.18 L616.32,206.04 L616.93,204.90 L617.55,203.77 L618.16,202.65 L618.77,201.53 L619.39,200.42 L620.00,199.31" stroke="#ff0000" stroke-width="1.05" stroke-dasharray="1.25 0.75 1.25 2.75"/>
<path d="M421.33,96.00 L422.65,96.27 L423.97,97.07 L425.29,98.38 L426.60,100.18 L427.92,102.44 L429.24,105.12 L430.55,108.16 L431.87,111.52 L433.19,115.16 L434.51,119.01 L435.82,123.04 L437.14,127.18 L438.46,131.41 L439.78,135.68 L441.09,139.95 L442.41,144.20 L443.73,148.39 L445.04,152.52 L446.36,156.55 L447.68,160.48 L449.00,164.30 L450.31,167.99 L451.63,171.55 L452.95,174.98 L454.27,178.28 L455.58,181.44 L456.90,184.47 L458.22,187.36 L459.53,190.14 L460.85,192.78 L462.17,195.31 L463.49,197.72 L464.80,200.02 L466.12,202.21 L467.44,204.30 L468.76,206.29 L470.07,208.18 L471.39,209.99 L472.71,211.71 L474.03,213.36 L475.34,214.92 L476.66,216.42 L477.98,217.84 L479.29,219.20 L480.61,220.50 L481.93,221.74 L483.25,222.92 L484.56,224.05 L485.88,225.13 L487.20,226.17 L488.52,227.15 L489.83,228.10 L491.15,229.00 L492.47,229.87 L493.78,230.70 L495.10,231.50 L496.42,232.26 L497.74,232.99 L499.05,233.69 L500.37,234.37 L501.69,235.02 L503.01,235.64 L504.32,236.24 L505.64,236.81 L506.96,237.36 L508.28,237.90 L509.59,238.41 L510.91,238.90 L512.23,239.38 L513.54,239.83 L514.86,240.28 L516.18,240.70 L517.50,241.11 L518.81,241.51 L520.13,241.89 L521.45,242.26 L522.77,242.62 L524.08,242.96 L525.40,243.30 L526.72,243.62 L528.03,243.93 L529.35,244.23 L530.67,244.52 L531.99,244.81 L533.30,245.08 L534.62,245.35 L535.94,245.60 L537.26,245.85 L538.57,246.10 L539.89,246.33 L541.21,246.56 L542.52,246.78 L543.84,246.99 L545.16,247.20 L546.48,247.40 L547.79,247.60 L549.11,247.79 L550.43,247.98 L551.75,248.16 L553.06,248.33 L554.38,248.50 L555.70,248.67 L557.02,248.83 L558.33,248.99 L559.65,249.14 L560.97,249.29 L562.28,249.43 L563.60,249.58 L564.92,249.71 L566.24,249.85 L567.55,249.98 L568.87,250.11 L570.19,250.23 L571.51,250.35 L572.82,250.47 L574.14,250.59 L575.46,250.70 L576.77,250.81 L578.09,250.92 L579.41,251.02 L580.73,251.12 L582.04,251.22 L583.36,251.32 L584.68,251.42 L586.00,251.51 L587.31,251.60 L588.63,251.69 L589.95,251.78 L591.26,251.86 L592.58,251.95 L593.90,252.03 L595.22,252.11 L596.53,252.19 L597.85,252.26 L599.17,252.34 L600.49,252.41 L601.80,252.48 L603.12,252.55 L604.44,252.62 L605.89,230.93 L606.51,228.50 L607.12,227.03 L607.73,225.72 L608.35,224.48 L608.96,223.30 L609.57,222.16 L610.19,221.04 L610.80,219.94 L611.41,218.87 L612.03,217.81 L612.64,216.76 L613.25,215.72 L613.87,214.69 L614.48,213.68 L615.09,212.67 L615.71,211.66 L616.32,210.67 L616.93,209.67 L617.55,208.69 L618.16,207.71 L618.77,206.73 L619.39,205.76 L620.00,204.79" stroke="#000" stroke-width="1.05" stroke-dasharray="1.25 0.75 1.25 2.75"/>
<path d="M421.33,69.44 L422.65,69.74 L423.97,70.66 L425.29,72.16 L426.60,74.23 L427.92,76.82 L429.24,79.89 L430.55,83.38 L431.87,87.25 L433.19,91.43 L434.51,95.86 L435.82,100.49 L437.14,105.27 L438.46,110.14 L439.78,115.07 L441.09,120.01 L442.41,124.92 L443.73,129.78 L445.04,134.55 L446.36,139.23 L447.68,143.79 L449.00,148.22 L450.31,152.51 L451.63,156.65 L452.95,160.64 L454.27,164.48 L455.58,168.16 L456.90,171.69 L458.22,175.07 L459.53,178.31 L460.85,181.40 L462.17,184.35 L463.49,187.17 L464.80,189.86 L466.12,192.42 L467.44,194.86 L468.76,197.19 L470.07,199.42 L471.39,201.54 L472.71,203.56 L474.03,205.48 L475.34,207.32 L476.66,209.07 L477.98,210.75 L479.29,212.34 L480.61,213.87 L481.93,215.32 L483.25,216.71 L484.56,218.04 L485.88,219.31 L487.20,220.53 L488.52,221.69 L489.83,222.80 L491.15,223.87 L492.47,224.89 L493.78,225.87 L495.10,226.80 L496.42,227.70 L497.74,228.56 L499.05,229.39 L500.37,230.18 L501.69,230.95 L503.01,231.68 L504.32,232.38 L505.64,233.06 L506.96,233.71 L508.28,234.34 L509.59,234.95 L510.91,235.53 L512.23,236.09 L513.54,236.63 L514.86,237.15 L516.18,237.65 L517.50,238.13 L518.81,238.60 L520.13,239.05 L521.45,239.49 L522.77,239.91 L524.08,240.32 L525.40,240.71 L526.72,241.09 L528.03,241.46 L529.35,241.82 L530.67,242.16 L531.99,242.50 L533.30,242.82 L534.62,243.13 L535.94,243.44 L537.26,243.73 L538.57,244.02 L539.89,244.29 L541.21,244.56 L542.52,244.82 L543.84,245.08 L545.16,245.32 L546.48,245.56 L547.79,245.79 L549.11,246.02 L550.43,246.24 L551.75,246.45 L553.06,246.66 L554.38,246.86 L555.70,247.06 L557.02,247.25 L558.33,247.43 L559.65,247.61 L560.97,247.79 L562.28,247.96 L563.60,248.13 L564.92,248.29 L566.24,248.45 L567.55,248.60 L568.87,248.76 L570.19,248.90 L571.51,249.05 L572.82,249.19 L574.14,249.32 L575.46,249.46 L576.77,249.59 L578.09,249.71 L579.41,249.84 L580.73,249.96 L582.04,250.08 L583.36,250.19 L584.68,250.30 L586.00,250.41 L587.31,250.52 L588.63,250.63 L589.95,250.73 L591.26,250.83 L592.58,250.93 L593.90,251.03 L595.22,251.12 L596.53,251.21 L597.85,251.30 L599.17,251.39 L600.49,251.48 L601.80,251.56 L603.12,251.65 L604.44,251.73 L605.89,232.79 L606.51,230.62 L607.12,229.30 L607.73,228.13 L608.35,227.02 L608.96,225.97 L609.57,224.95 L610.19,223.95 L610.80,222.97 L611.41,222.01 L612.03,221.06 L612.64,220.12 L613.25,219.20 L613.87,218.28 L614.48,217.37 L615.09,216.47 L615.71,215.57 L616.32,214.68 L616.93,213.79 L617.55,212.91 L618.16,212.04 L618.77,211.16 L619.39,210.30 L620.00,209.43" stroke="#0000ff" stroke-width="1.25"/>
<path d="M421.33,97.52 L422.65,97.79 L423.97,98.60 L425.29,99.93 L426.60,101.76 L427.92,104.05 L429.24,106.76 L430.55,109.84 L431.87,113.24 L433.19,116.91 L434.51,120.80 L435.82,124.86 L437.14,129.03 L438.46,133.28 L439.78,137.56 L441.09,141.84 L442.41,146.09 L443.73,150.29 L445.04,154.41 L446.36,158.43 L447.68,162.35 L449.00,166.14 L450.31,169.81 L451.63,173.34 L452.95,176.74 L454.27,180.01 L455.58,183.14 L456.90,186.13 L458.22,189.00 L459.53,191.73 L460.85,194.34 L462.17,196.83 L463.49,199.20 L464.80,201.46 L466.12,203.61 L467.44,205.67 L468.76,207.62 L470.07,209.48 L471.39,211.26 L472.71,212.94 L474.03,214.55 L475.34,216.09 L476.66,217.55 L477.98,218.94 L479.29,220.27 L480.61,221.54 L481.93,222.75 L483.25,223.91 L484.56,225.01 L485.88,226.07 L487.20,227.07 L488.52,228.04 L489.83,228.96 L491.15,229.84 L492.47,230.69 L493.78,231.50 L495.10,232.27 L496.42,233.01 L497.74,233.73 L499.05,234.41 L500.37,235.07 L501.69,235.70 L503.01,236.30 L504.32,236.88 L505.64,237.44 L506.96,237.98 L508.28,238.50 L509.59,239.00 L510.91,239.48 L512.23,239.94 L513.54,240.38 L514.86,240.81 L516.18,241.22 L517.50,241.62 L518.81,242.01 L520.13,242.38 L521.45,242.74 L522.77,243.09 L524.08,243.42 L525.40,243.74 L526.72,244.06 L528.03,244.36 L529.35,244.65 L530.67,244.94 L531.99,245.21 L533.30,245.48 L534.62,245.73 L535.94,245.98 L537.26,246.23 L538.57,246.46 L539.89,246.69 L541.21,246.91 L542.52,247.12 L543.84,247.33 L545.16,247.53 L546.48,247.73 L547.79,247.92 L549.11,248.10 L550.43,248.28 L551.75,248.46 L553.06,248.63 L554.38,248.79 L555.70,248.95 L557.02,249.11 L558.33,249.26 L559.65,249.41 L560.97,249.56 L562.28,249.70 L563.60,249.83 L564.92,249.97 L566.24,250.10 L567.55,250.22 L568.87,250.35 L570.19,250.47 L571.51,250.58 L572.82,250.70 L574.14,250.81 L575.46,250.92 L576.77,251.03 L578.09,251.13 L579.41,251.23 L580.73,251.33 L582.04,251.43 L583.36,251.52 L584.68,251.62 L586.00,251.71 L587.31,251.79 L588.63,251.88 L589.95,251.97 L591.26,252.05 L592.58,252.13 L593.90,252.21 L595.22,252.28 L596.53,252.36 L597.85,252.43 L599.17,252.51 L600.49,252.58 L601.80,252.65 L603.12,252.72 L604.44,252.78 L605.89,227.81 L606.51,224.96 L607.12,223.23 L607.73,221.69 L608.35,220.24 L608.96,218.85 L609.57,217.51 L610.19,216.19 L610.80,214.91 L611.41,213.65 L612.03,212.40 L612.64,211.17 L613.25,209.95 L613.87,208.75 L614.48,207.55 L615.09,206.36 L615.71,205.19 L616.32,204.01 L616.93,202.85 L617.55,201.69 L618.16,200.54 L618.77,199.40 L619.39,198.25 L620.00,197.12" stroke="#ff0000" stroke-width="1.25"/>
<path d="M421.33,84.53 L422.65,84.82 L423.97,85.67 L425.29,87.08 L426.60,89.01 L427.92,91.43 L429.24,94.29 L430.55,97.55 L431.87,101.16 L433.19,105.05 L434.51,109.18 L435.82,113.49 L437.14,117.93 L438.46,122.45 L439.78,127.02 L441.09,131.60 L442.41,136.15 L443.73,140.65 L445.04,145.06 L446.36,149.38 L447.68,153.59 L449.00,157.68 L450.31,161.63 L451.63,165.45 L452.95,169.12 L454.27,172.65 L455.58,176.04 L456.90,179.28 L458.22,182.38 L459.53,185.35 L460.85,188.19 L462.17,190.89 L463.49,193.47 L464.80,195.93 L466.12,198.28 L467.44,200.52 L468.76,202.65 L470.07,204.68 L471.39,206.62 L472.71,208.46 L474.03,210.22 L475.34,211.90 L476.66,213.50 L477.98,215.03 L479.29,216.48 L480.61,217.87 L481.93,219.20 L483.25,220.47 L484.56,221.68 L485.88,222.83 L487.20,223.94 L488.52,225.00 L489.83,226.01 L491.15,226.98 L492.47,227.91 L493.78,228.80 L495.10,229.65 L496.42,230.47 L497.74,231.25 L499.05,232.00 L500.37,232.73 L501.69,233.42 L503.01,234.09 L504.32,234.73 L505.64,235.34 L506.96,235.93 L508.28,236.50 L509.59,237.05 L510.91,237.58 L512.23,238.09 L513.54,238.58 L514.86,239.05 L516.18,239.51 L517.50,239.95 L518.81,240.37 L520.13,240.78 L521.45,241.18 L522.77,241.56 L524.08,241.93 L525.40,242.29 L526.72,242.63 L528.03,242.97 L529.35,243.29 L530.67,243.60 L531.99,243.91 L533.30,244.20 L534.62,244.48 L535.94,244.76 L537.26,245.03 L538.57,245.29 L539.89,245.54 L541.21,245.78 L542.52,246.02 L543.84,246.25 L545.16,246.47 L546.48,246.69 L547.79,246.90 L549.11,247.10 L550.43,247.30 L551.75,247.49 L553.06,247.68 L554.38,247.86 L555.70,248.04 L557.02,248.21 L558.33,248.38 L559.65,248.55 L560.97,248.71 L562.28,248.86 L563.60,249.01 L564.92,249.16 L566.24,249.30 L567.55,249.44 L568.87,249.58 L570.19,249.71 L571.51,249.84 L572.82,249.97 L574.14,250.09 L575.46,250.22 L576.77,250.33 L578.09,250.45 L579.41,250.56 L580.73,250.67 L582.04,250.78 L583.36,250.88 L584.68,250.98 L586.00,251.08 L587.31,251.18 L588.63,251.28 L589.95,251.37 L591.26,251.46 L592.58,251.55 L593.90,251.64 L595.22,251.73 L596.53,251.81 L597.85,251.89 L599.17,251.97 L600.49,252.05 L601.80,252.13 L603.12,252.20 L604.44,252.27 L605.89,230.09 L606.51,227.46 L607.12,225.86 L607.73,224.43 L608.35,223.10 L608.96,221.82 L609.57,220.58 L610.19,219.37 L610.80,218.18 L611.41,217.01 L612.03,215.86 L612.64,214.73 L613.25,213.60 L613.87,212.49 L614.48,211.39 L615.09,210.29 L615.71,209.20 L616.32,208.12 L616.93,207.05 L617.55,205.98 L618.16,204.92 L618.77,203.86 L619.39,202.80 L620.00,201.76" stroke="#000" stroke-width="1.25"/>
</g>
<g fill="none">
<path d="M23.50,4.50 H620.50 M23.50,257.50 H620.50" stroke="#1a1a1a" stroke-width="1"/>
<path d="M24.00,4.50 V257.50" stroke="#1a1a1a" stroke-width="1"/>
<path d="M222.67,4.50 V257.50" stroke="#1a1a1a" stroke-width="1.25"/>
<path d="M421.33,4.50 V257.50" stroke="#1a1a1a" stroke-width="1.25"/>
<path d="M620.00,4.50 V257.50" stroke="#1a1a1a" stroke-width="1"/>
<path d="M24.00,257.50 h3.60 M24.00,249.07 h1.80 M24.00,240.63 h1.80 M24.00,232.20 h1.80 M24.00,223.77 h1.80 M24.00,215.33 h3.60 M24.00,206.90 h1.80 M24.00,198.47 h1.80 M24.00,190.03 h1.80 M24.00,181.60 h1.80 M24.00,173.17 h3.60 M24.00,164.73 h1.80 M24.00,156.30 h1.80 M24.00,147.87 h1.80 M24.00,139.43 h1.80 M24.00,131.00 h3.60 M24.00,122.57 h1.80 M24.00,114.13 h1.80 M24.00,105.70 h1.80 M24.00,97.27 h1.80 M24.00,88.83 h3.60 M24.00,80.40 h1.80 M24.00,71.97 h1.80 M24.00,63.53 h1.80 M24.00,55.10 h1.80 M24.00,46.67 h3.60 M24.00,38.23 h1.80 M24.00,29.80 h1.80 M24.00,21.37 h1.80 M24.00,12.93 h1.80 M24.00,4.50 h3.60 M222.67,257.50 h3.60 M222.67,257.50 h-3.60 M222.67,249.07 h1.80 M222.67,249.07 h-1.80 M222.67,240.63 h1.80 M222.67,240.63 h-1.80 M222.67,232.20 h1.80 M222.67,232.20 h-1.80 M222.67,223.77 h1.80 M222.67,223.77 h-1.80 M222.67,215.33 h3.60 M222.67,215.33 h-3.60 M222.67,206.90 h1.80 M222.67,206.90 h-1.80 M222.67,198.47 h1.80 M222.67,198.47 h-1.80 M222.67,190.03 h1.80 M222.67,190.03 h-1.80 M222.67,181.60 h1.80 M222.67,181.60 h-1.80 M222.67,173.17 h3.60 M222.67,173.17 h-3.60 M222.67,164.73 h1.80 M222.67,164.73 h-1.80 M222.67,156.30 h1.80 M222.67,156.30 h-1.80 M222.67,147.87 h1.80 M222.67,147.87 h-1.80 M222.67,139.43 h1.80 M222.67,139.43 h-1.80 M222.67,131.00 h3.60 M222.67,131.00 h-3.60 M222.67,122.57 h1.80 M222.67,122.57 h-1.80 M222.67,114.13 h1.80 M222.67,114.13 h-1.80 M222.67,105.70 h1.80 M222.67,105.70 h-1.80 M222.67,97.27 h1.80 M222.67,97.27 h-1.80 M222.67,88.83 h3.60 M222.67,88.83 h-3.60 M222.67,80.40 h1.80 M222.67,80.40 h-1.80 M222.67,71.97 h1.80 M222.67,71.97 h-1.80 M222.67,63.53 h1.80 M222.67,63.53 h-1.80 M222.67,55.10 h1.80 M222.67,55.10 h-1.80 M222.67,46.67 h3.60 M222.67,46.67 h-3.60 M222.67,38.23 h1.80 M222.67,38.23 h-1.80 M222.67,29.80 h1.80 M222.67,29.80 h-1.80 M222.67,21.37 h1.80 M222.67,21.37 h-1.80 M222.67,12.93 h1.80 M222.67,12.93 h-1.80 M222.67,4.50 h3.60 M222.67,4.50 h-3.60 M421.33,257.50 h3.60 M421.33,257.50 h-3.60 M421.33,249.07 h1.80 M421.33,249.07 h-1.80 M421.33,240.63 h1.80 M421.33,240.63 h-1.80 M421.33,232.20 h1.80 M421.33,232.20 h-1.80 M421.33,223.77 h1.80 M421.33,223.77 h-1.80 M421.33,215.33 h3.60 M421.33,215.33 h-3.60 M421.33,206.90 h1.80 M421.33,206.90 h-1.80 M421.33,198.47 h1.80 M421.33,198.47 h-1.80 M421.33,190.03 h1.80 M421.33,190.03 h-1.80 M421.33,181.60 h1.80 M421.33,181.60 h-1.80 M421.33,173.17 h3.60 M421.33,173.17 h-3.60 M421.33,164.73 h1.80 M421.33,164.73 h-1.80 M421.33,156.30 h1.80 M421.33,156.30 h-1.80 M421.33,147.87 h1.80 M421.33,147.87 h-1.80 M421.33,139.43 h1.80 M421.33,139.43 h-1.80 M421.33,131.00 h3.60 M421.33,131.00 h-3.60 M421.33,122.57 h1.80 M421.33,122.57 h-1.80 M421.33,114.13 h1.80 M421.33,114.13 h-1.80 M421.33,105.70 h1.80 M421.33,105.70 h-1.80 M421.33,97.27 h1.80 M421.33,97.27 h-1.80 M421.33,88.83 h3.60 M421.33,88.83 h-3.60 M421.33,80.40 h1.80 M421.33,80.40 h-1.80 M421.33,71.97 h1.80 M421.33,71.97 h-1.80 M421.33,63.53 h1.80 M421.33,63.53 h-1.80 M421.33,55.10 h1.80 M421.33,55.10 h-1.80 M421.33,46.67 h3.60 M421.33,46.67 h-3.60 M421.33,38.23 h1.80 M421.33,38.23 h-1.80 M421.33,29.80 h1.80 M421.33,29.80 h-1.80 M421.33,21.37 h1.80 M421.33,21.37 h-1.80 M421.33,12.93 h1.80 M421.33,12.93 h-1.80 M421.33,4.50 h3.60 M421.33,4.50 h-3.60 M620.00,257.50 h-3.60 M620.00,249.07 h-1.80 M620.00,240.63 h-1.80 M620.00,232.20 h-1.80 M620.00,223.77 h-1.80 M620.00,215.33 h-3.60 M620.00,206.90 h-1.80 M620.00,198.47 h-1.80 M620.00,190.03 h-1.80 M620.00,181.60 h-1.80 M620.00,173.17 h-3.60 M620.00,164.73 h-1.80 M620.00,156.30 h-1.80 M620.00,147.87 h-1.80 M620.00,139.43 h-1.80 M620.00,131.00 h-3.60 M620.00,122.57 h-1.80 M620.00,114.13 h-1.80 M620.00,105.70 h-1.80 M620.00,97.27 h-1.80 M620.00,88.83 h-3.60 M620.00,80.40 h-1.80 M620.00,71.97 h-1.80 M620.00,63.53 h-1.80 M620.00,55.10 h-1.80 M620.00,46.67 h-3.60 M620.00,38.23 h-1.80 M620.00,29.80 h-1.80 M620.00,21.37 h-1.80 M620.00,12.93 h-1.80 M620.00,4.50 h-3.60 M24.00,257.50 v-3.60 M24.00,4.50 v3.60 M57.11,257.50 v-3.60 M57.11,4.50 v3.60 M90.22,257.50 v-3.60 M90.22,4.50 v3.60 M123.33,257.50 v-3.60 M123.33,4.50 v3.60 M156.44,257.50 v-3.60 M156.44,4.50 v3.60 M189.56,257.50 v-3.60 M189.56,4.50 v3.60 M222.67,257.50 v-3.60 M222.67,4.50 v3.60 M255.78,257.50 v-3.60 M255.78,4.50 v3.60 M288.89,257.50 v-3.60 M288.89,4.50 v3.60 M322.00,257.50 v-3.60 M322.00,4.50 v3.60 M355.11,257.50 v-3.60 M355.11,4.50 v3.60 M388.22,257.50 v-3.60 M388.22,4.50 v3.60 M421.33,257.50 v-3.60 M421.33,4.50 v3.60 M454.44,257.50 v-3.60 M454.44,4.50 v3.60 M487.56,257.50 v-3.60 M487.56,4.50 v3.60 M520.67,257.50 v-3.60 M520.67,4.50 v3.60 M553.78,257.50 v-3.60 M553.78,4.50 v3.60 M586.89,257.50 v-3.60 M586.89,4.50 v3.60 M620.00,257.50 v-3.60 M620.00,4.50 v3.60" stroke="#1a1a1a" stroke-width="0.7"/>
<path d="M171.6,75.40 H203.8" stroke="#000" stroke-width="1.05" stroke-dasharray="1.25 0.75 1.25 2.75"/>
<path d="M171.6,91.00 H203.8" stroke="#000" stroke-width="1.25"/>
<path d="M171.6,106.60 H203.8" stroke="#0000ff" stroke-width="1.05" stroke-dasharray="1.25 0.75 1.25 2.75"/>
<path d="M171.6,122.30 H203.8" stroke="#0000ff" stroke-width="1.25"/>
<path d="M171.6,137.90 H203.8" stroke="#ff0000" stroke-width="1.05" stroke-dasharray="1.25 0.75 1.25 2.75"/>
<path d="M171.6,153.50 H203.8" stroke="#ff0000" stroke-width="1.25"/>
</g>
<g>
<text x="16.60" y="261.60" text-anchor="end">0</text>
<text x="16.60" y="219.43" text-anchor="end">0.5</text>
<text x="16.60" y="177.27" text-anchor="end">1</text>
<text x="16.60" y="135.10" text-anchor="end">1.5</text>
<text x="16.60" y="92.93" text-anchor="end">2</text>
<text x="16.60" y="50.77" text-anchor="end">2.5</text>
<text x="16.60" y="8.60" text-anchor="end">3</text>
<text x="24.00" y="273.70" text-anchor="middle">0</text>
<text x="57.11" y="273.70" text-anchor="middle">0.5</text>
<text x="90.22" y="273.70" text-anchor="middle">1</text>
<text x="123.33" y="273.70" text-anchor="middle">1.5</text>
<text x="156.44" y="273.70" text-anchor="middle">2</text>
<text x="189.56" y="273.70" text-anchor="middle">2.5</text>
<text x="222.67" y="273.70" text-anchor="middle">0</text>
<text x="255.78" y="273.70" text-anchor="middle">0.5</text>
<text x="288.89" y="273.70" text-anchor="middle">1</text>
<text x="322.00" y="273.70" text-anchor="middle">1.5</text>
<text x="355.11" y="273.70" text-anchor="middle">2</text>
<text x="388.22" y="273.70" text-anchor="middle">2.5</text>
<text x="421.33" y="273.70" text-anchor="middle">0</text>
<text x="454.44" y="273.70" text-anchor="middle">0.5</text>
<text x="487.56" y="273.70" text-anchor="middle">1</text>
<text x="520.67" y="273.70" text-anchor="middle">1.5</text>
<text x="553.78" y="273.70" text-anchor="middle">2</text>
<text x="586.89" y="273.70" text-anchor="middle">2.5</text>
<text x="620.00" y="273.70" text-anchor="middle">3</text>
<text x="163.60" y="79.20" text-anchor="end" class="lg">DM1</text>
<text x="163.60" y="94.80" text-anchor="end" class="lg">spf1</text>
<text x="163.60" y="110.40" text-anchor="end" class="lg">DM2</text>
<text x="163.60" y="126.10" text-anchor="end" class="lg">spf2</text>
<text x="163.60" y="141.70" text-anchor="end" class="lg">DM3</text>
<text x="163.60" y="157.30" text-anchor="end" class="lg">spf3</text>
<text x="30.6" y="23.7" class="b" style="font-size:11.25px"><tspan font-weight="normal" class="g">ρ</tspan>(<tspan font-weight="normal" class="g">ω</tspan>)/(<tspan font-weight="normal" class="g">ω</tspan>T)</text>
<text x="87.60" y="40.6" class="ttl">V<tspan dy="3.3" style="font-size:9.6px">ii</tspan><tspan dy="-3.3"> @ 1.46 T</tspan><tspan dy="3.3" style="font-size:9.6px">c</tspan></text>
<text x="179.80" y="240.2" class="b"><tspan font-weight="normal" class="g" style="font-size:11.6px">ω</tspan><tspan dx="-0.15">/</tspan><tspan dx="-0.4">T</tspan></text>
<text x="286.27" y="40.6" class="ttl">V<tspan dy="3.3" style="font-size:9.6px">ii</tspan><tspan dy="-3.3"> @ 2.20 T</tspan><tspan dy="3.3" style="font-size:9.6px">c</tspan></text>
<text x="378.47" y="240.2" class="b"><tspan font-weight="normal" class="g" style="font-size:11.6px">ω</tspan><tspan dx="-0.15">/</tspan><tspan dx="-0.4">T</tspan></text>
<text x="484.93" y="40.6" class="ttl">V<tspan dy="3.3" style="font-size:9.6px">ii</tspan><tspan dy="-3.3"> @ 2.93 T</tspan><tspan dy="3.3" style="font-size:9.6px">c</tspan></text>
<text x="577.13" y="240.2" class="b"><tspan font-weight="normal" class="g" style="font-size:11.6px">ω</tspan><tspan dx="-0.15">/</tspan><tspan dx="-0.4">T</tspan></text>
</g>
</svg>
</body></html>
